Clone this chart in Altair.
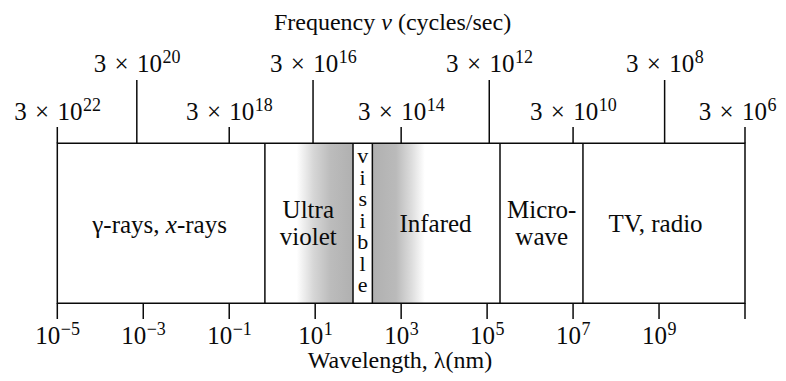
import altair as alt
import pandas as pd

# ---------------- values ----------------
# wavelength axis (exponent of 10, in nm)
wl_tick_exp = [-5, -3, -1, 1, 3, 5, 7, 9, 11]
wl_label_exp = [-5, -3, -1, 1, 3, 5, 7, 9]
wl_label_sup = ["−5", "−3", "−1", "1", "3", "5", "7", "9"]

# frequency axis: exponent label and where each tick sits on the wavelength scale
freq_sup = ["22", "20", "18", "16", "14", "12", "10", "8", "6"]
freq_at_wl = [-5, -3.15, -1, 0.95, 3, 5.05, 7, 9.13, 11]
freq_long = [False, True, False, True, False, True, False, True, False]

# spectrum bands
box_span = [-5, 11]
band_edges = [-0.17, 1.88, 2.33, 5.30, 7.23]
uv_shade = [0.57, 1.88]
ir_shade = [2.33, 3.55]

single_labels = ["Infared", "TV, radio"]
single_at = [3.80, 8.92]
double_labels = ["Ultra\nviolet", "Micro-\nwave"]
double_at = [0.84, 6.27]
visible_label = ["v\ni\ns\ni\nb\nl\ne"]
visible_at = [2.105]
gamma_parts = ["γ-rays,", "x", "-rays"]
gamma_at = [-2.62, -2.62, -2.62]

# ---------------- layout ----------------
W, H = 770, 365
PXD = 42.98                      # pixels per decade
FONT = "Liberation Serif"
INK = "#0a0a0a"
LW = 1.5
BOX_TOP, BOX_BOT = 135.3, 295.3
TALL_TOP, SHORT_TOP = 72, 119
BOT_TICK = 311
FS_BASE, FS_SUP = 25, 18
X_MIN = -5 - 49.3 / PXD
X_MAX = 11 + (W - 737) / PXD
TITLE_Y = 21.5
XTITLE_Y = 359.5

xs = alt.Scale(domain=[X_MIN, X_MAX], nice=False, zero=False)


def X(field):
    return alt.X(f"{field}:Q", scale=xs, axis=None)


def grad(stops):
    return alt.LinearGradient(
        gradient="linear",
        stops=[alt.GradientStop(offset=o, color=c) for o, c in stops],
        x1=0, x2=1, y1=0, y2=0,
    )


# shading
uv = alt.Chart(pd.DataFrame({"a": [uv_shade[0]], "b": [uv_shade[1]]})).mark_rect(
    fill=grad([(0, "#ffffff"), (0.3, "#d6d6d6"), (0.6, "#bcbcbc"), (1, "#b0b0b0")])
).encode(x=X("a"), x2="b:Q", y=alt.value(BOX_TOP), y2=alt.value(BOX_BOT))

ir = alt.Chart(pd.DataFrame({"a": [ir_shade[0]], "b": [ir_shade[1]]})).mark_rect(
    fill=grad([(0, "#b0b0b0"), (0.45, "#bababa"), (0.75, "#dddddd"), (1, "#ffffff")])
).encode(x=X("a"), x2="b:Q", y=alt.value(BOX_TOP), y2=alt.value(BOX_BOT))

# box outline + band dividers
box = alt.Chart(pd.DataFrame({"a": [box_span[0]], "b": [box_span[1]]})).mark_rect(
    fillOpacity=0, stroke=INK, strokeWidth=LW
).encode(x=X("a"), x2="b:Q", y=alt.value(BOX_TOP), y2=alt.value(BOX_BOT))

dividers = alt.Chart(pd.DataFrame({"e": band_edges})).mark_rule(
    color=INK, strokeWidth=LW
).encode(x=X("e"), y=alt.value(BOX_TOP), y2=alt.value(BOX_BOT))

# top (frequency) ticks & labels
top_df = pd.DataFrame({"pos": freq_at_wl, "sup": freq_sup, "long": freq_long})
top_base_w = FS_BASE * (0.5 + 0.333 + 0.564 + 0.333 + 1.0)
sup_w = FS_SUP * 0.5

top_ticks = alt.Chart(top_df).transform_calculate(
    ytop=f"datum.long ? {TALL_TOP} : {SHORT_TOP}"
).mark_rule(color=INK, strokeWidth=LW).encode(
    x=X("pos"), y=alt.Y("ytop:Q", scale=None), y2=alt.value(BOX_TOP)
)

top_lab_src = alt.Chart(top_df).transform_calculate(
    ax0=f"datum.pos + ({top_base_w} - length(datum.sup) * {sup_w}) / 2 / {PXD}",
    ylab="datum.long ? 63.7 : 112",
).transform_calculate(
    # keep the rightmost label inside the page
    ax=f"min(datum.ax0, {X_MAX} - (2 + length(datum.sup) * {sup_w}) / {PXD})"
)
top_base = top_lab_src.mark_text(
    align="right", baseline="alphabetic", font=FONT, fontSize=FS_BASE, color=INK
).encode(x=X("ax"), y=alt.Y("ylab:Q", scale=None), text=alt.value("3\u2004×\u200410"))
top_sup = top_lab_src.mark_text(
    align="left", baseline="alphabetic", font=FONT, fontSize=FS_SUP, color=INK, dy=-9, dx=0.5
).encode(x=X("ax"), y=alt.Y("ylab:Q", scale=None), text="sup:N")

# bottom (wavelength) ticks & labels
bot_ticks = alt.Chart(pd.DataFrame({"e": wl_tick_exp})).mark_rule(
    color=INK, strokeWidth=LW
).encode(x=X("e"), y=alt.value(BOX_BOT), y2=alt.value(BOT_TICK))

bot_src = alt.Chart(pd.DataFrame({"e": wl_label_exp, "sup": wl_label_sup})).transform_calculate(
    ax=f"datum.e + ({FS_BASE} - (length(datum.sup) * {sup_w} + (indexof(datum.sup, '−') >= 0 ? 1.1 : 0))) / 2 / {PXD}"
)
bot_base = bot_src.mark_text(
    align="right", baseline="alphabetic", font=FONT, fontSize=FS_BASE, color=INK
).encode(x=X("ax"), y=alt.value(336), text=alt.value("10"))
bot_sup = bot_src.mark_text(
    align="left", baseline="alphabetic", font=FONT, fontSize=FS_SUP, color=INK, dy=-9, dx=0.5
).encode(x=X("ax"), y=alt.value(336), text="sup:N")

# band labels
singles = alt.Chart(pd.DataFrame({"x": single_at, "t": single_labels})).mark_text(
    align="center", baseline="alphabetic", font=FONT, fontSize=25, color=INK
).encode(x=X("x"), y=alt.value(223.5), text="t:N")

doubles = alt.Chart(pd.DataFrame({"x": double_at, "t": double_labels})).mark_text(
    align="center", baseline="alphabetic", font=FONT, fontSize=25, color=INK,
    lineBreak="\n", lineHeight=27.5
).encode(x=X("x"), y=alt.value(209.5), text="t:N")

visible = alt.Chart(pd.DataFrame({"x": visible_at, "t": visible_label})).mark_text(
    align="center", baseline="alphabetic", font=FONT, fontSize=22, color=INK,
    lineBreak="\n", lineHeight=21.5
).encode(x=X("x"), y=alt.value(155), text="t:N")

g_df = pd.DataFrame({"x": gamma_at, "t": gamma_parts})
g1 = alt.Chart(g_df.iloc[[0]]).mark_text(
    align="right", baseline="alphabetic", font=FONT, fontSize=25, color=INK
).encode(x=X("x"), y=alt.value(224.7), text="t:N")
g2 = alt.Chart(g_df.iloc[[1]]).mark_text(
    align="left", baseline="alphabetic", font=FONT, fontSize=25, fontStyle="italic", color=INK, dx=6.2
).encode(x=X("x"), y=alt.value(224.7), text="t:N")
g3 = alt.Chart(g_df.iloc[[2]]).mark_text(
    align="left", baseline="alphabetic", font=FONT, fontSize=25, color=INK, dx=17.3
).encode(x=X("x"), y=alt.value(224.7), text="t:N")

# titles
title_parts = ["Frequency", "v", "(cycles/sec)"]
t1 = alt.Chart(pd.DataFrame({"t": [title_parts[0]]})).mark_text(
    align="right", baseline="alphabetic", font=FONT, fontSize=24, color=INK
).encode(x=alt.value(367.2), y=alt.value(TITLE_Y), text="t:N")
t2 = alt.Chart(pd.DataFrame({"t": [title_parts[1]]})).mark_text(
    align="left", baseline="alphabetic", font=FONT, fontSize=24, fontStyle="italic", color=INK
).encode(x=alt.value(373.2), y=alt.value(TITLE_Y), text="t:N")
t3 = alt.Chart(pd.DataFrame({"t": [title_parts[2]]})).mark_text(
    align="left", baseline="alphabetic", font=FONT, fontSize=24, color=INK
).encode(x=alt.value(389.9), y=alt.value(TITLE_Y), text="t:N")

bottom_title = alt.Chart(pd.DataFrame({"t": ["Wavelength, λ(nm)"]})).mark_text(
    align="center", baseline="alphabetic", font=FONT, fontSize=24, color=INK
).encode(x=alt.value(392), y=alt.value(XTITLE_Y), text="t:N")

chart = alt.layer(
    uv, ir, box, dividers, top_ticks, top_base, top_sup, bot_ticks, bot_base, bot_sup,
    singles, doubles, visible, g1, g2, g3, t1, t2, t3, bottom_title
).properties(
    width=W, height=H, padding=0, autosize="none", background="white"
).configure_view(stroke="transparent")

chart.save("out.html", embed_options={"renderer": "svg", "actions": False})
